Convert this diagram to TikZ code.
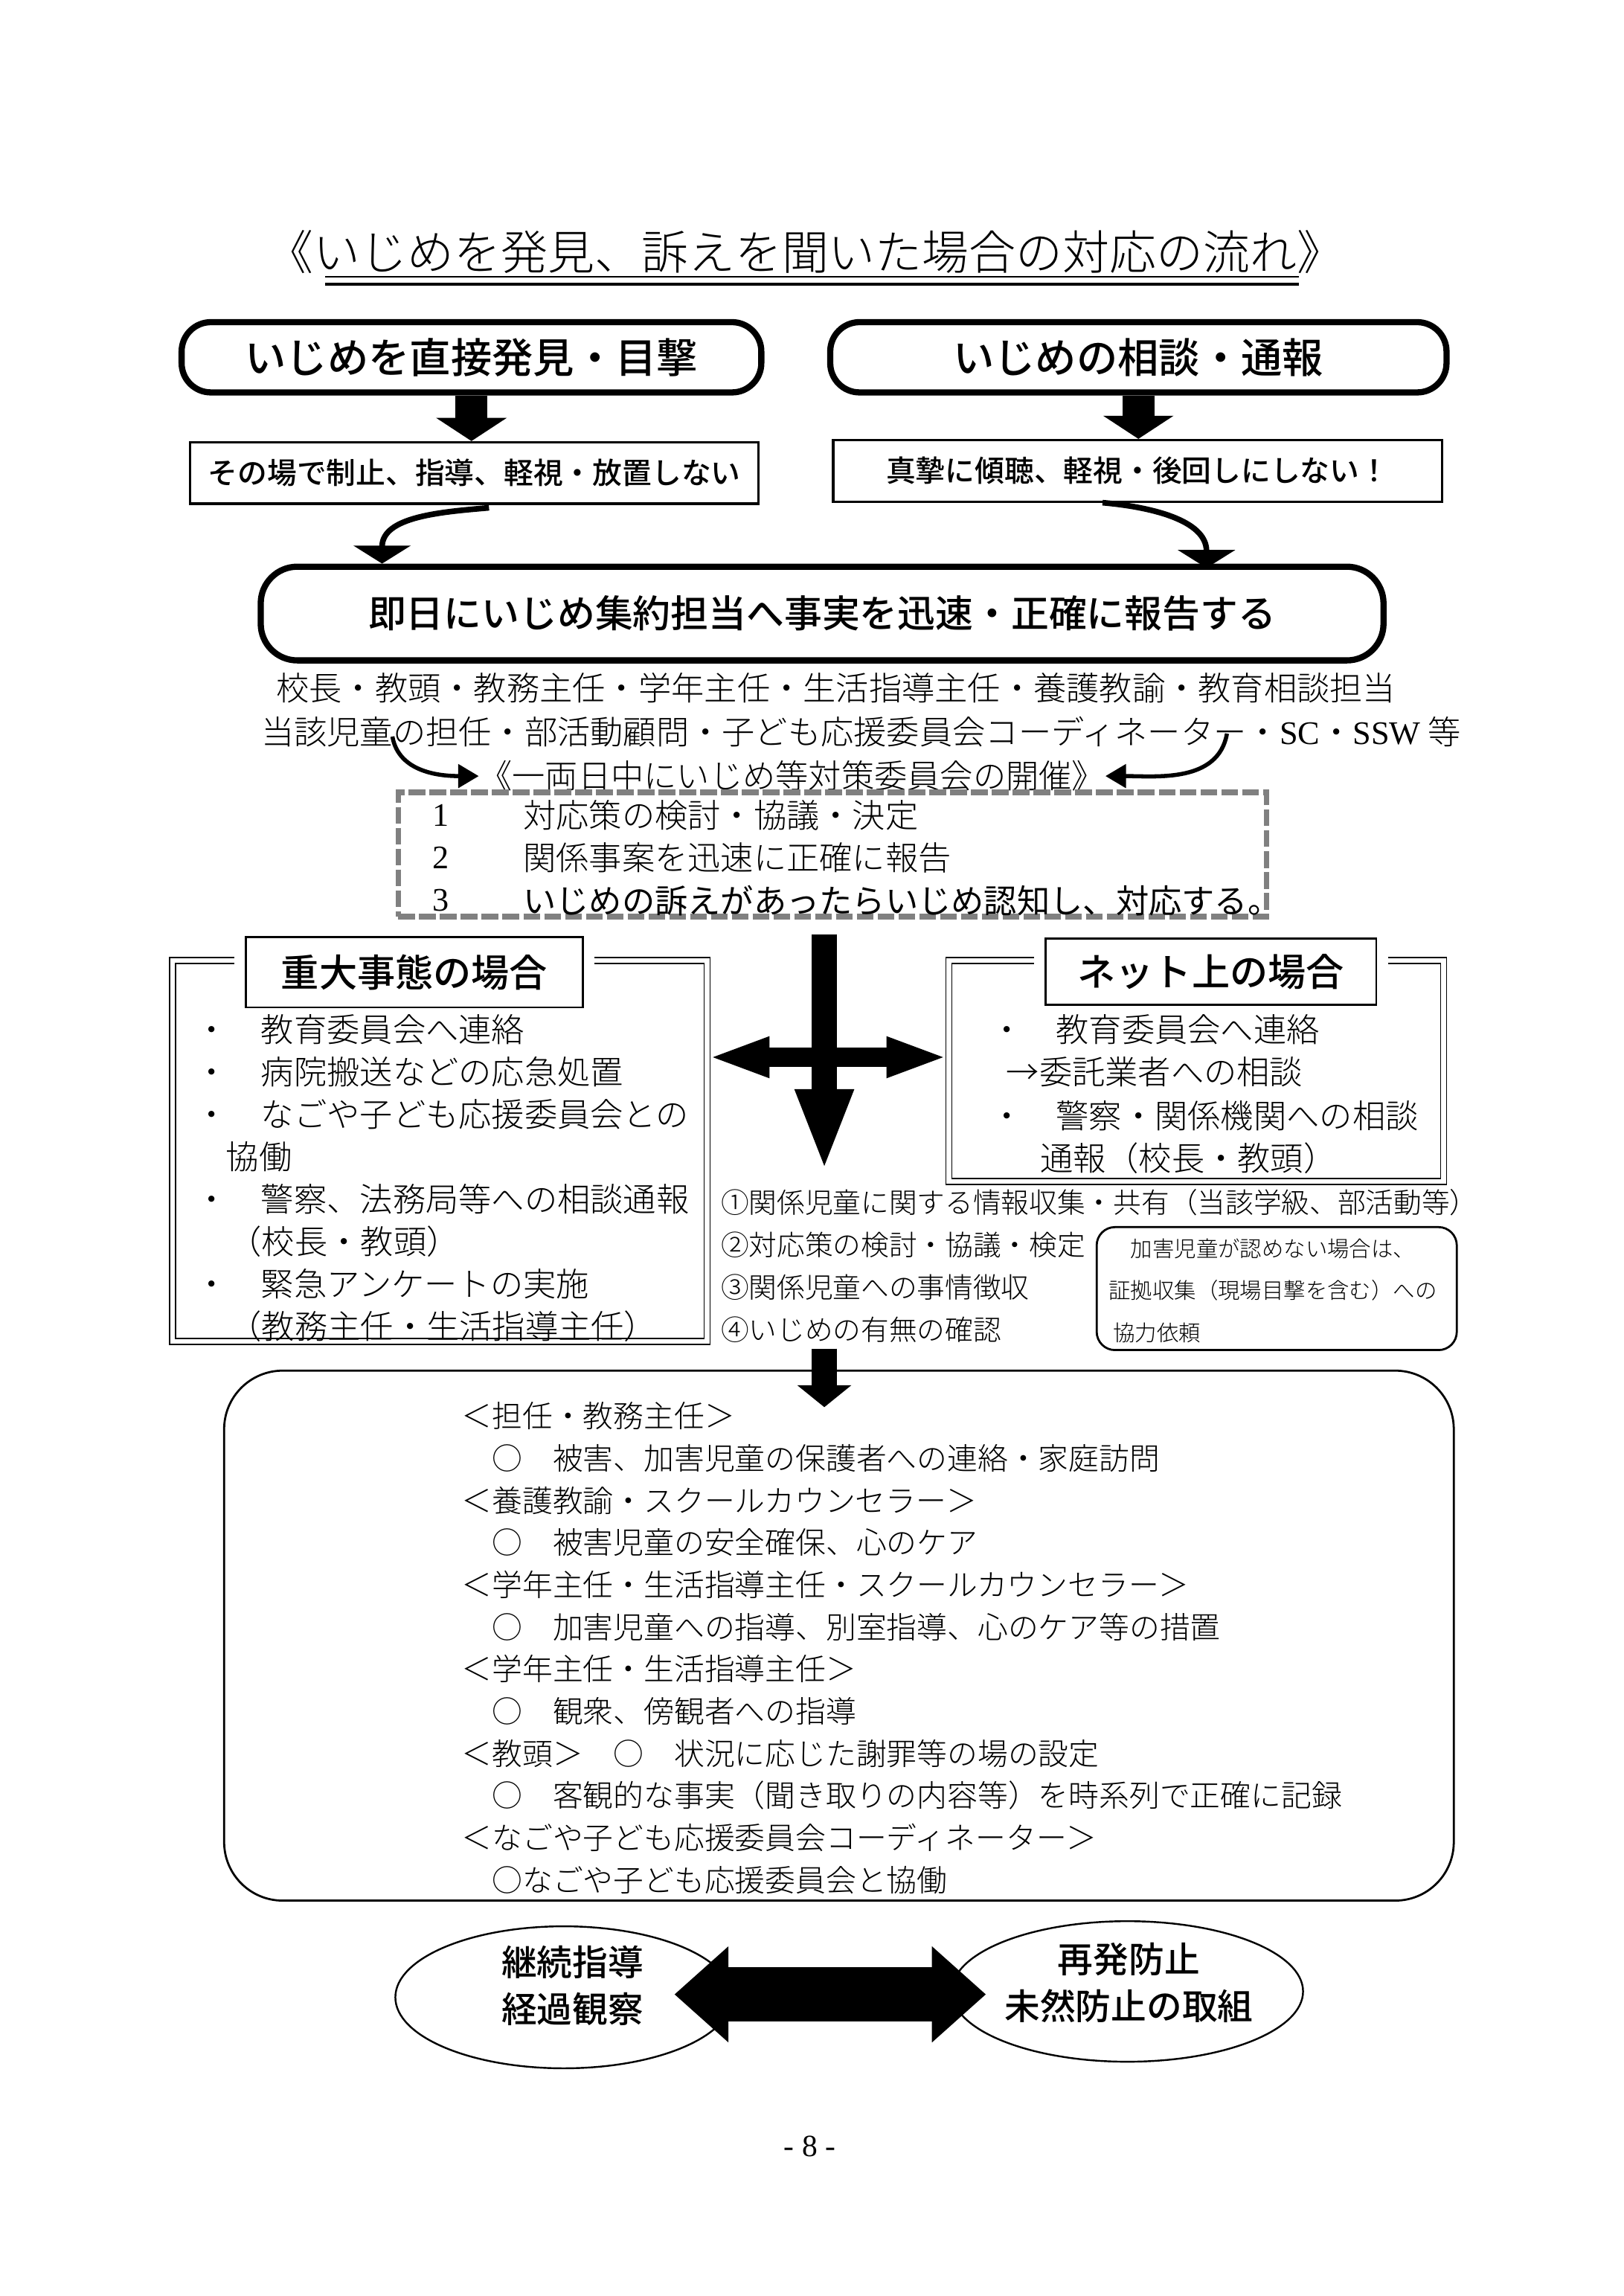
\documentclass[tikz,border=0pt]{standalone}
\usepackage{fontspec}
\usetikzlibrary{calc,arrows.meta,shapes.geometric}

\IfFontExistsTF{Noto Sans CJK JP Light}
  {\setmainfont{Noto Sans CJK JP Light}}
  {\setmainfont{Noto Sans CJK JP}}
\newfontfamily\gothic{Noto Sans CJK JP}
\IfFontExistsTF{Noto Sans CJK JP Medium}
  {\newfontfamily\heavy{Noto Sans CJK JP Medium}}
  {\newfontfamily\heavy{Noto Sans CJK JP}[UprightFont=* Bold]}
\newfontfamily\lat{Liberation Serif}

\tikzset{
  pill/.style={draw, line width=2.4pt, rounded corners=0.4cm, inner sep=0,
    font=\heavy\fontsize{16}{18}\selectfont},
  thinbox/.style={draw, line width=0.9pt, inner sep=0,
    font=\heavy\fontsize{11.5}{13}\selectfont},
  dframe/.style={draw, double, double distance=1.8pt, line width=0.5pt, inner sep=0},
  tabbox/.style={draw, fill=white, line width=0.8pt, inner sep=0,
    preaction={draw=white, line width=9pt},
    font=\heavy\fontsize{14.8}{16}\selectfont},
  txt/.style={anchor=west, inner sep=0},
  fbody/.style={font=\fontsize{12.8}{15}\selectfont},
  fitem/.style={font=\fontsize{10.9}{13}\selectfont},
  frole/.style={font=\fontsize{11.8}{14}\selectfont},
  fnote/.style={font=\fontsize{8.5}{10}\selectfont},
  fatdown/.style={line width=12.5pt, -{Triangle[width=27pt,length=9pt]}},
  curvearr/.style={line width=2.2pt, -{Triangle[width=22pt,length=7pt]}},
  smallcurve/.style={line width=1.6pt, -{Triangle[width=9pt,length=8pt]}},
}

\begin{document}
\begin{tikzpicture}[x=0.02cm, y=-0.02cm, >=latex]
  \useasboundingbox (0,0) rectangle (1109,1568);
  % --- title, double underline ---
  \node[inner sep=0, font=\fontsize{18.2}{20}\selectfont] (title) at (550,172)
    {《いじめを発見、訴えを聞いた場合の対応の流れ》};
  \draw[line width=0.8pt] (222,189) -- (887,189);
  \draw[line width=1.1pt] (222,194) -- (887,194);

  % --- start: found / consulted ---
  \node[pill, minimum width=7.92cm, minimum height=0.96cm] (find) at (322,244)
    {いじめを直接発見・目撃};
  \node[pill, minimum width=8.42cm, minimum height=0.96cm] (hear) at (777.5,244)
    {いじめの相談・通報};
  \node[thinbox, minimum width=7.76cm, minimum height=0.84cm] (stop) at (324,323)
    {その場で制止、指導、軽視・放置しない};
  \node[thinbox, minimum width=8.32cm, minimum height=0.84cm] (listen) at (777,321.5)
    {真摯に傾聴、軽視・後回しにしない！};
  \draw[fatdown] (find.south) -- (find.south |- stop.north);
  \draw[fatdown] (hear.south) -- (hear.south |- listen.north);

  % --- report the same day ---
  \node[pill, rounded corners=0.5cm, minimum width=15.34cm, minimum height=1.28cm,
    font=\heavy\fontsize{14.7}{16}\selectfont] (report) at (561.5,419)
    {即日にいじめ集約担当へ事実を迅速・正確に報告する};
  \draw[curvearr] ($(stop.south)+(10,2)$) to[out=185, in=90] ($(report.north west)+(85,0)$);
  \draw[curvearr] ($(listen.south)+(-24,0)$) to[out=-5, in=90] ($(report.north east)+(-123,3)$);

  % --- staff, committee meeting ---
  \node[inner sep=0, fbody] (staffA) at (571,470)
    {校長・教頭・教務主任・学年主任・生活指導主任・養護教諭・教育相談担当};
  \node[inner sep=0, fbody] (staffB) at (588,500)
    {当該児童の担任・部活動顧問・子ども応援委員会コーディネーター・{\lat SC}・{\lat SSW} 等};
  \node[inner sep=0, fbody] (meet) at (541,530)
    {《一両日中にいじめ等対策委員会の開催》};
  \coordinate (sL) at (268,503);
  \coordinate (sR) at (838,501);
  \draw[smallcurve] (sL) to[out=-80, in=180] (meet.west);
  \draw[smallcurve] (sR) to[out=-100, in=0] (meet.east);

  % --- decisions (grey dashed box) ---
  \node[draw=gray, line width=2.2pt, dash pattern=on 6.5pt off 1.6pt,
    minimum width=11.86cm, minimum height=1.7cm, inner sep=0] (plan) at (568.5,583.5) {};
  \node[txt, fbody] (n1) at (295,557) {\lat 1};
  \node[txt, fbody] (n2) at (295,586) {\lat 2};
  \node[txt, fbody] (n3) at (295,615) {\lat 3};
  \node[txt, fbody] (p1) at (357,557) {対応策の検討・協議・決定};
  \node[txt, fbody] (p2) at (357,586) {関係事案を迅速に正確に報告};
  \node[txt, font=\gothic\fontsize{12.8}{15}\selectfont] (p3) at (357,615)
    {いじめの訴えがあったらいじめ認知し、対応する。};

  % --- serious case / online case ---
  \node[dframe, minimum width=7.3cm, minimum height=5.2cm] (serious) at (300.5,786) {};
  \node[dframe, minimum width=6.76cm, minimum height=3.02cm] (net) at (817,731.5) {};
  \node[tabbox, minimum width=4.6cm, minimum height=0.96cm] (seriousTab) at (283,664)
    {重大事態の場合};
  \node[tabbox, minimum width=4.52cm, minimum height=0.9cm] (netTab) at (827,663.5)
    {ネット上の場合};
  \foreach \x/\t [count=\i] in {133/{・　教育委員会へ連絡}, 133/{・　病院搬送などの応急処置},
      133/{・　なごや子ども応援委員会との}, 154/{協働}, 133/{・　警察、法務局等への相談通報},
      156/{（校長・教頭）}, 133/{・　緊急アンケートの実施}, 156/{（教務主任・生活指導主任）}}
    \node[txt, fbody] (sv\i) at (\x,674+29*\i) {\t};
  \foreach \x/\y/\t [count=\i] in {676/703/{・　教育委員会へ連絡}, 687/732/{→委託業者への相談},
      676/762/{・　警察・関係機関への相談}, 710/791/{通報（校長・教頭）}}
    \node[txt, fbody] (nt\i) at (\x,\y) {\t};

  % --- cross arrow ---
  \coordinate (vtop) at (563,638);
  \coordinate (vtip) at (563,800);
  \coordinate (hmid) at (563,722);
  \draw[line width=10pt, -{Triangle[width=20.5pt,length=32pt]}] (vtop) -- (vtip);
  \draw[line width=7.4pt, {Triangle[width=14.2pt,length=24pt]}-{Triangle[width=14.2pt,length=24pt]}]
    (serious.east |- hmid) -- (net.west |- hmid);

  % --- investigation ---
  \node[txt, fitem] (q1) at (492,821) {①関係児童に関する情報収集・共有（当該学級、部活動等）};
  \node[txt, fitem] (q2) at (492,850) {②対応策の検討・協議・検定};
  \node[txt, fitem] (q3) at (492,879) {③関係児童への事情徴収};
  \node[txt, fitem] (q4) at (492,908) {④いじめの有無の確認};
  \node[draw, line width=0.8pt, rounded corners=0.25cm, minimum width=4.92cm,
    minimum height=1.68cm, inner sep=0] (note) at (872,880) {};
  \node[txt, fnote] (note1) at (757,853) {　加害児童が認めない場合は、};
  \node[txt, fnote] (note2) at (757,881) {証拠収集（現場目撃を含む）への};
  \node[txt, fnote] (note3) at (760,910) {協力依頼};

  % --- roles ---
  \coordinate (dtop) at (563,921);
  \coordinate (dtip) at (563,961);
  \node[draw, line width=0.8pt, rounded corners=0.8cm, minimum width=16.8cm,
    minimum height=7.24cm, inner sep=0] (roles) at (573,1117) {};
  \draw[line width=10pt, -{Triangle[width=20.5pt,length=8.5pt]}] (dtop) -- (dtip);
  \foreach \t [count=\i] in {{＜担任・教務主任＞}, {　○　被害、加害児童の保護者への連絡・家庭訪問},
      {＜養護教諭・スクールカウンセラー＞}, {　○　被害児童の安全確保、心のケア},
      {＜学年主任・生活指導主任・スクールカウンセラー＞}, {　○　加害児童への指導、別室指導、心のケア等の措置},
      {＜学年主任・生活指導主任＞}, {　○　観衆、傍観者への指導},
      {＜教頭＞　○　状況に応じた謝罪等の場の設定}, {　○　客観的な事実（聞き取りの内容等）を時系列で正確に記録},
      {＜なごや子ども応援委員会コーディネーター＞}, {　○なごや子ども応援委員会と協働}}
    \node[txt, frole] (role\i) at (315,938.2+28.8*\i) {\t};

  % --- follow-up ---
  \node[draw, ellipse, line width=0.7pt, minimum width=4.6cm, minimum height=1.94cm,
    inner sep=0] (cont) at (385,1364) {};
  \node[draw, ellipse, line width=0.7pt, minimum width=4.8cm, minimum height=1.92cm,
    inner sep=0] (prev) at (770,1360) {};
  \node[inner sep=0, align=center, font=\heavy\fontsize{13.8}{18.2}\selectfont]
    (contTxt) at (391,1356) {継続指導\\経過観察};
  \node[inner sep=0, align=center, font=\heavy\fontsize{13.8}{18.2}\selectfont]
    (prevTxt) at (771,1354) {再発防止\\未然防止の取組};
  \coordinate (al) at ($(cont.east)+(-40,-2)$);
  \coordinate (ar) at ($(prev.west)+(24,2)$);
  \draw[line width=21pt, {Triangle[width=36pt,length=21pt]}-{Triangle[width=36pt,length=21pt]}]
    (al) -- (ar);

  % --- page number ---
  \node[inner sep=0, font=\lat\fontsize{12}{14}\selectfont] (pg) at (553,1466) {- 8 -};
\end{tikzpicture}
\end{document}
